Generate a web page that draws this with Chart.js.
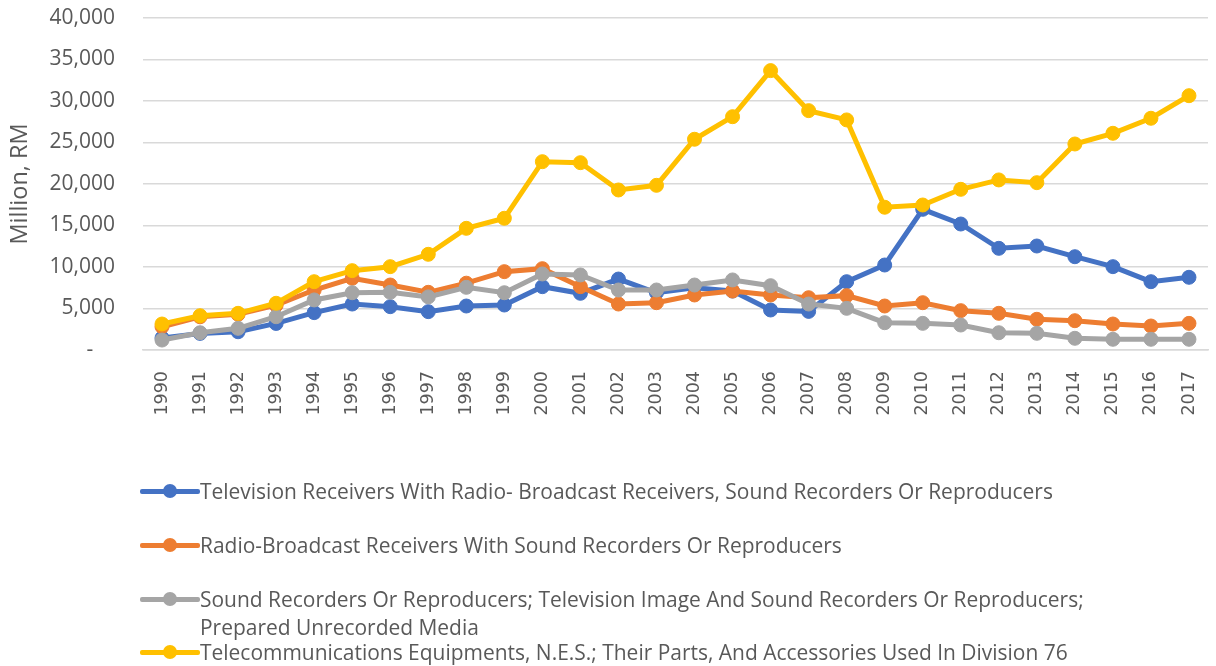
<!DOCTYPE html>
<html>
<head>
<meta charset="utf-8">
<script src="https://cdn.jsdelivr.net/npm/chart.js@4"></script>
<style>
  html, body { margin: 0; padding: 0; background: #ffffff; }
  #wrap { position: relative; width: 1216px; height: 666px; overflow: hidden; }
  #chart { position: absolute; left: 0; top: 0; }
  .item { position: absolute; left: 140px; font-family: "Open Sans", sans-serif; font-size: 19px; color: #595959; line-height: 28px; white-space: nowrap; }
  .mk { position: absolute; left: 0; top: 14px; width: 60px; height: 0; }
  .mk .ln { position: absolute; left: 0; top: -2.5px; width: 60px; height: 5px; border-radius: 2px; }
  .mk .dot { position: absolute; left: 23px; top: -7px; width: 14px; height: 14px; border-radius: 50%; }
  .txt { position: absolute; left: 60px; top: 0; }
</style>
</head>
<body>
<div id="wrap">
  <canvas id="chart" width="1216" height="666"></canvas>
  <div id="legend"></div>
</div>
<script>
// Years on the category axis
const years = ['1990','1991','1992','1993','1994','1995','1996','1997','1998','1999',
  '2000','2001','2002','2003','2004','2005','2006','2007','2008','2009',
  '2010','2011','2012','2013','2014','2015','2016','2017'];

// Series names
const seriesNames = [
  'Television Receivers With Radio- Broadcast Receivers, Sound Recorders Or Reproducers',
  'Radio-Broadcast Receivers With Sound Recorders Or Reproducers',
  'Sound Recorders Or Reproducers; Television Image And Sound Recorders Or Reproducers;\nPrepared Unrecorded Media',
  'Telecommunications Equipments, N.E.S.; Their Parts, And Accessories Used In Division 76'
];

// Values, million RM
const tvReceivers = [1450, 2000, 2200, 3200, 4500, 5540, 5220, 4620, 5300, 5420,
  7630, 6830, 8550, 6900, 7500, 7100, 4820, 4650, 8230, 10240,
  16950, 15180, 12250, 12530, 11240, 10040, 8230, 8760];
const radioReceivers = [2800, 4000, 4300, 5400, 7230, 8640, 7830, 6950, 8050, 9440,
  9800, 7630, 5540, 5700, 6630, 7110, 6630, 6300, 6550, 5300,
  5700, 4740, 4420, 3700, 3530, 3130, 2890, 3210];
const soundRecorders = [1200, 2080, 2610, 4010, 6030, 6900, 6950, 6400, 7550, 6900,
  9160, 9040, 7230, 7230, 7830, 8440, 7750, 5540, 5020, 3290,
  3210, 3010, 2080, 2010, 1410, 1290, 1290, 1290];
const telecomEquip = [3130, 4130, 4420, 5630, 8230, 9560, 10040, 11530, 14660, 15870,
  22690, 22570, 19280, 19840, 25390, 28110, 33660, 28840, 27720, 17200,
  17470, 19360, 20490, 20160, 24820, 26110, 27920, 30640];

// Y-axis range
const yMin = 0, yMax = 40000, yStep = 5000;

const colors = ['#4472C4', '#ED7D31', '#A5A5A5', '#FFC000'];
const seriesValues = [tvReceivers, radioReceivers, soundRecorders, telecomEquip];

const datasets = seriesValues.map((vals, i) => ({
  label: seriesNames[i],
  data: vals,
  borderColor: colors[i],
  backgroundColor: colors[i],
  pointBackgroundColor: colors[i],
  pointBorderColor: colors[i],
  borderWidth: 5,
  pointRadius: 7,
  pointBorderWidth: 1,
  pointHoverRadius: 7,
  tension: 0,
  fill: false,
  order: 3 - i
}));

const TEXT = '#595959';
const GRID = '#d9d9d9';

new Chart(document.getElementById('chart'), {
  type: 'line',
  data: { labels: years, datasets },
  options: {
    responsive: false,
    animation: false,
    devicePixelRatio: 1,
    layout: { padding: { top: 18, right: 0, left: 0, bottom: 0 } },
    plugins: { legend: { display: false }, tooltip: { enabled: false } },
    scales: {
      x: {
        offset: true,
        grid: { display: false },
        border: { display: true, color: GRID, width: 1.5 },
        ticks: {
          autoSkip: false, maxRotation: 90, minRotation: 90, padding: 13,
          color: TEXT, font: { family: 'DejaVu Sans', size: 17.5 }
        },
        afterFit: s => { s.height = 316; s.paddingLeft = 0; s.paddingRight = 0; }
      },
      y: {
        min: yMin, max: yMax,
        grid: { color: GRID, lineWidth: 1.5, drawTicks: false },
        border: { display: false },
        ticks: {
          stepSize: yStep, padding: 28, color: TEXT,
          font: { family: 'Open Sans', size: 21 },
          callback: v => v === 0 ? '-    ' : v.toLocaleString('en-US')
        },
        title: {
          display: true, text: 'Million, RM', color: TEXT,
          font: { family: 'Open Sans', size: 23.5 }, padding: { top: 6, bottom: 0 }
        },
        afterFit: s => { s.width = 143; s.paddingTop = 0; s.paddingBottom = 0; }
      }
    }
  }
});

// Legend below the plot; text size chosen so the longest single line spans 853px
const legendTops = [477, 531, 585, 638];
const measureCtx = document.createElement('canvas').getContext('2d');
measureCtx.font = '20px "Open Sans"';
const refWidth = measureCtx.measureText(seriesNames[0]).width;
const legendFontSize = 20 * 853 / refWidth;

const legend = document.getElementById('legend');
seriesNames.forEach((name, i) => {
  const item = document.createElement('div');
  item.className = 'item';
  item.style.top = legendTops[i] + 'px';
  item.style.fontSize = legendFontSize.toFixed(2) + 'px';
  const mk = document.createElement('div');
  mk.className = 'mk';
  mk.innerHTML = '<div class="ln" style="background:' + colors[i] + '"></div><div class="dot" style="background:' + colors[i] + '"></div>';
  const txt = document.createElement('div');
  txt.className = 'txt';
  txt.innerHTML = name.split('\n').join('<br>');
  item.appendChild(mk);
  item.appendChild(txt);
  legend.appendChild(item);
});
</script>
</body>
</html>
